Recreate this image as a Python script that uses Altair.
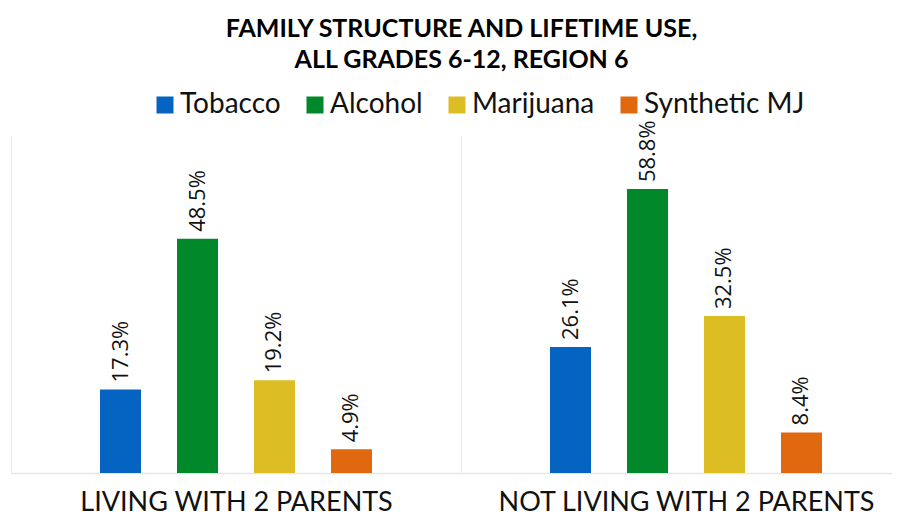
import altair as alt
import pandas as pd

groups = ["LIVING WITH 2 PARENTS", "NOT LIVING WITH 2 PARENTS"]
substances = ["Tobacco", "Alcohol", "Marijuana", "Synthetic MJ"]
living = [17.3, 48.5, 19.2, 4.9]
not_living = [26.1, 58.8, 32.5, 8.4]
colors = ["#0563C1", "#00882B", "#DCBD23", "#E0690F"]

rows = []
for g, vals in zip(groups, [living, not_living]):
    for s, v in zip(substances, vals):
        rows.append({"group": g, "substance": s, "value": v, "label": f"{v:.1f}%"})
df = pd.DataFrame(rows)

x = alt.X(
    "group:N",
    sort=groups,
    scale=alt.Scale(range=[0, 900], paddingInner=0, paddingOuter=0),
    axis=alt.Axis(
        title=None, labelAngle=0, ticks=False, tickSize=0, grid=True, tickBand="extent",
        gridColor="#EBEBEB", domainColor="#E6E6E6", domainWidth=1.5,
        labelFont="Lato", labelFontSize=27, labelFontWeight="normal", labelColor="#111111",
        labelPadding=16, labelBaseline="top", labelLimit=600,
    ),
)
xo = alt.XOffset(
    "substance:N", sort=substances,
    scale=alt.Scale(range=[89, 361], paddingInner=0.4675, paddingOuter=0),
)
y = alt.Y("value:Q", scale=alt.Scale(domain=[0, 70]), axis=None)
color = alt.Color(
    "substance:N", sort=substances,
    scale=alt.Scale(domain=substances, range=colors),
    legend=alt.Legend(
        orient="none", legendX=140, legendY=-44, direction="horizontal", columns=4,
        title=None, symbolType="square", symbolSize=289, symbolStrokeWidth=0,
        labelFont="Lato", labelFontSize=28, labelColor="#111111", labelLimit=400,
        columnPadding=20, labelOffset=1,
    ),
)

bars = alt.Chart(df).mark_bar().encode(x=x, xOffset=xo, y=y, color=color)
labels = alt.Chart(df).mark_text(
    angle=270, align="left", baseline="middle", dx=7,
    font="Open Sans", fontSize=22, color="#111111",
).encode(x=x, xOffset=xo, y=y, text="label:N")

chart = (bars + labels).properties(
    width=881, height=338,
    autosize="none",
    padding={"left": 3, "top": 127, "right": 0, "bottom": 43},
    title=alt.TitleParams(
        text=["FAMILY STRUCTURE AND LIFETIME USE,", "ALL GRADES 6-12, REGION 6"],
        font="Lato", fontSize=25, fontWeight="bold", color="#000000",
        anchor="middle", dx=10, lineHeight=31, offset=18, frame="group",
    ),
).configure_view(stroke=None)

chart.save("out.html", embed_options={"renderer": "svg", "actions": False})
